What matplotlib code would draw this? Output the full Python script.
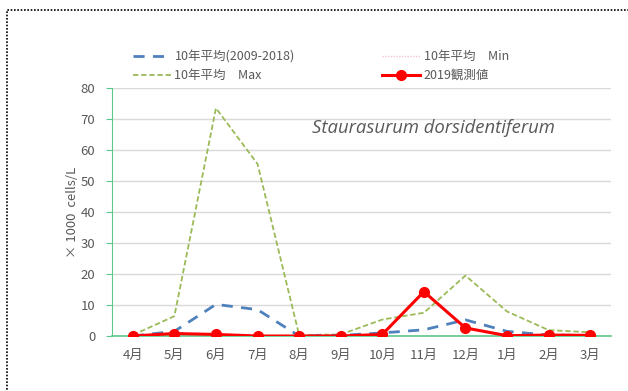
import matplotlib
matplotlib.use("Agg")
import matplotlib.pyplot as plt
from matplotlib.patches import Rectangle

plt.rcParams['font.family'] = ['Noto Sans CJK JP', 'DejaVu Sans']

months = ["4月", "5月", "6月", "7月", "8月", "9月", "10月", "11月", "12月", "1月", "2月", "3月"]
avg_10yr = [0.0, 1.5, 10.2, 8.5, 0.0, 0.2, 1.0, 2.0, 5.2, 1.5, 0.3, 0.2]
min_10yr = [0.0, 0.0, 0.0, 0.0, 0.0, 0.0, 0.0, 0.0, 0.0, 0.0, 0.0, 0.0]
max_10yr = [0.3, 6.4, 73.5, 55.5, 0.3, 0.5, 5.3, 7.5, 19.5, 7.9, 1.9, 1.2]
obs_2019 = [0.0, 0.8, 0.5, 0.0, 0.0, 0.0, 0.5, 14.3, 2.6, 0.1, 0.3, 0.2]
y_ticks = [0, 10, 20, 30, 40, 50, 60, 70, 80]

W, H = 628, 391
fig = plt.figure(figsize=(W / 100, H / 100), dpi=100)
ax = fig.add_axes([112 / W, 1 - 336 / H, (611 - 112) / W, (336 - 88) / H])

x = list(range(len(months)))
grey = "#595959"
axis_green = "#5cc98a"

ax.plot(x, min_10yr, color="#f4c7cf", lw=1.0, ls=(0, (1, 1)), label="10年平均　Min", zorder=2)
ax.plot(x, max_10yr, color="#9bbb59", lw=1.3, ls=(0, (3, 1.5)), label="10年平均　Max", zorder=3)
ax.plot(x, avg_10yr, color="#4f81bd", lw=2.0, ls=(0, (4, 3)), label="10年平均(2009-2018)", zorder=4)
ax.plot(x, obs_2019, color="#ff0000", lw=2.2, marker="o", ms=7, label="2019観測値", zorder=5)

ax.set_xlim(-0.5, 11.5)
ax.set_ylim(0, 80)
ax.set_yticks(y_ticks)
ax.set_xticks(x)
ax.set_xticklabels(months)
ax.grid(axis="y", color="#d9d9d9", lw=1.0)
ax.set_axisbelow(True)

for side in ("top", "right"):
    ax.spines[side].set_visible(False)
ax.spines["left"].set_color(axis_green)
ax.spines["bottom"].set_color(axis_green)
ax.spines["bottom"].set_linewidth(1.2)
ax.tick_params(axis="y", colors=axis_green, labelcolor=grey, labelsize=9.5, length=4, pad=8)
ax.tick_params(axis="x", length=0, labelcolor=grey, labelsize=9.5, pad=9)

ax.set_ylabel("× 1000  cells/L", color=grey, fontsize=9.5, labelpad=1)

ax.text(0.645, 0.84, "Staurasurum dorsidentiferum", transform=ax.transAxes,
        style="italic", fontsize=13.3, color="#595959", ha="center", va="center",
        family=["Open Sans", "DejaVu Sans"])

handles, labels = ax.get_legend_handles_labels()
order = [2, 1, 0, 3]
leg = fig.legend([handles[i] for i in order], [labels[i] for i in order],
                 loc="upper left", bbox_to_anchor=(122 / W, 1 - 39 / H), ncol=2,
                 frameon=False, fontsize=9, handlelength=3.0, columnspacing=7.0,
                 handletextpad=0.3, labelspacing=0.45, labelcolor=grey)

# dotted border around the chart
border = Rectangle((7 / W, -0.1), 1.2, 1 - 10 / H + 0.1, transform=fig.transFigure,
                   fill=False, ls=(0, (1, 1)), lw=1.2, color="#000000", clip_on=False)
fig.patches.append(border)

fig.savefig("out.png", dpi=100)
